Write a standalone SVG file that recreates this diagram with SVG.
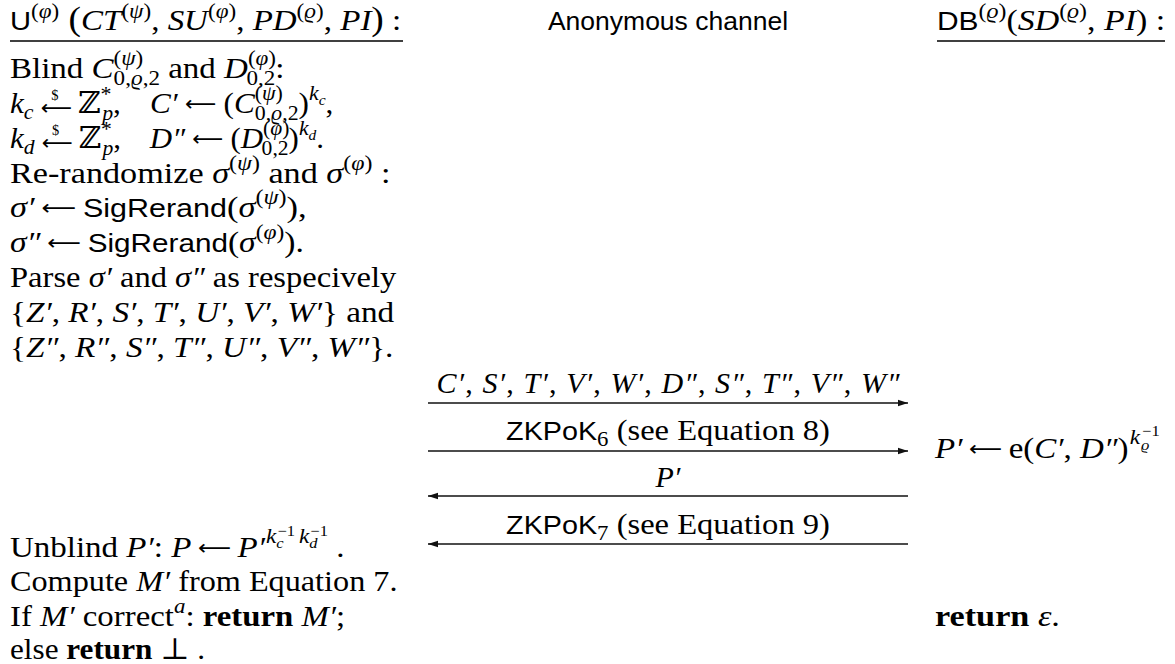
<svg xmlns="http://www.w3.org/2000/svg" width="1175" height="664" viewBox="0 0 1175 664">
<style>
text{font-family:"Liberation Serif","DejaVu Serif",serif;font-size:30px;fill:#000}
.r{font-family:"Liberation Serif","DejaVu Serif",serif}
.i{font-style:italic}
.s{font-family:"Liberation Sans","DejaVu Sans",sans-serif;font-size:26.5px}
.a{font-family:"DejaVu Sans",sans-serif;font-size:21px;font-style:normal}
.b{font-weight:bold}
.sc{font-size:21px}
.ss{font-size:15px}
.ul{stroke:#000;stroke-width:1.3}
.arr{stroke:#111;stroke-width:1.3;fill:none}
</style>
<defs>
<marker id="ah" viewBox="0 0 10 8" refX="10" refY="4" markerWidth="10" markerHeight="8" markerUnits="userSpaceOnUse" orient="auto-start-reverse">
<path d="M0,0.8 L10,4 L0,7.2 z" fill="#111"/>
</marker>
</defs>

<g id="header-user">
<text transform="translate(10 0) scale(1.1 1)" x="0" y="30"><tspan class="s">U</tspan><tspan class="sc r" dy="-12">(<tspan class="i">φ</tspan>)</tspan><tspan class="r" dy="12" font-size="34"> (</tspan><tspan class="i r">CT</tspan><tspan class="sc r" dy="-12">(<tspan class="i">ψ</tspan>)</tspan><tspan class="r" dy="12">, </tspan><tspan class="i r">SU</tspan><tspan class="sc r" dy="-12">(<tspan class="i">φ</tspan>)</tspan><tspan class="r" dy="12">, </tspan><tspan class="i r">PD</tspan><tspan class="sc r" dy="-12">(<tspan class="i">ϱ</tspan>)</tspan><tspan class="r" dy="12">, </tspan><tspan class="i r">PI</tspan><tspan class="r" font-size="34">)</tspan><tspan class="r"> :</tspan></text>
<line class="ul" x1="10" y1="41" x2="403" y2="41"/>
</g>

<g id="header-channel">
<text class="s" x="668" y="30" text-anchor="middle">Anonymous channel</text>
</g>

<g id="header-db">
<text transform="translate(937 0) scale(1.13 1)" x="0" y="30"><tspan class="s">DB</tspan><tspan class="sc r" dy="-12">(<tspan class="i">ϱ</tspan>)</tspan><tspan class="r" dy="12">(</tspan><tspan class="i r">SD</tspan><tspan class="sc r" dy="-12">(<tspan class="i">ϱ</tspan>)</tspan><tspan class="r" dy="12">, </tspan><tspan class="i r">PI</tspan><tspan class="r">) :</tspan></text>
<line class="ul" x1="937" y1="41" x2="1165" y2="41"/>
</g>

<g id="user-steps">
<text transform="translate(10 0) scale(1.1 1)" x="0" y="78">Blind <tspan class="i">C</tspan><tspan class="sc" dy="-13">(<tspan class="i">ψ</tspan>)</tspan><tspan class="sc" dx="-27" dy="20">0,<tspan class="i">ϱ</tspan>,2</tspan><tspan dy="-7"> and </tspan><tspan class="i">D</tspan><tspan class="sc" dy="-13">(<tspan class="i">φ</tspan>)</tspan><tspan class="sc" dx="-27" dy="20">0,2</tspan><tspan dy="-7">:</tspan></text>

<text transform="translate(10 0) scale(1.04 1)" x="0" y="113"><tspan class="i">k</tspan><tspan class="sc i" dy="6">c</tspan><tspan class="a" dx="7" dy="-4">⟵</tspan><tspan font-size="14" dx="-20" dy="-15">$</tspan><tspan dx="11" dy="13"> ℤ</tspan><tspan class="sc" dy="-12">*</tspan><tspan class="sc i" dx="-9" dy="19">p</tspan><tspan dy="-7">,</tspan><tspan class="i" dx="28">C′</tspan><tspan class="a" dx="7" dy="-2">⟵</tspan><tspan dx="7" dy="2">(</tspan><tspan class="i">C</tspan><tspan class="sc" dy="-13">(<tspan class="i">ψ</tspan>)</tspan><tspan class="sc" dx="-27" dy="20">0,<tspan class="i">ϱ</tspan>,2</tspan><tspan dy="-7">)</tspan><tspan class="sc i" dy="-13">k</tspan><tspan class="ss i" dy="5">c</tspan><tspan dy="8">,</tspan></text>

<text transform="translate(10 0) scale(1.03 1)" x="0" y="148"><tspan class="i">k</tspan><tspan class="sc i" dy="6">d</tspan><tspan class="a" dx="7" dy="-4">⟵</tspan><tspan font-size="14" dx="-20" dy="-15">$</tspan><tspan dx="11" dy="13"> ℤ</tspan><tspan class="sc" dy="-12">*</tspan><tspan class="sc i" dx="-9" dy="19">p</tspan><tspan dy="-7">,</tspan><tspan class="i" dx="28">D″</tspan><tspan class="a" dx="7" dy="-2">⟵</tspan><tspan dx="7" dy="2">(</tspan><tspan class="i">D</tspan><tspan class="sc" dy="-13">(<tspan class="i">φ</tspan>)</tspan><tspan class="sc" dx="-27" dy="20">0,2</tspan><tspan dy="-7">)</tspan><tspan class="sc i" dy="-13">k</tspan><tspan class="ss i" dy="5">d</tspan><tspan dy="8">.</tspan></text>

<text transform="translate(10 0) scale(1.14 1)" x="0" y="183">Re-randomize <tspan class="i">σ</tspan><tspan class="sc" dy="-13">(<tspan class="i">ψ</tspan>)</tspan><tspan dy="13"> and </tspan><tspan class="i">σ</tspan><tspan class="sc" dy="-13">(<tspan class="i">φ</tspan>)</tspan><tspan dy="13"> :</tspan></text>

<text transform="translate(10 0) scale(1.15 1)" x="0" y="217"><tspan class="i">σ′</tspan><tspan class="a" dx="6" dy="-2">⟵</tspan><tspan dx="6" dy="2" class="s">SigRerand</tspan><tspan class="r">(</tspan><tspan class="i r">σ</tspan><tspan class="sc r" dy="-13">(<tspan class="i">ψ</tspan>)</tspan><tspan class="r" dy="13">),</tspan></text>

<text transform="translate(10 0) scale(1.12 1)" x="0" y="252"><tspan class="i">σ″</tspan><tspan class="a" dx="6" dy="-2">⟵</tspan><tspan dx="6" dy="2" class="s">SigRerand</tspan><tspan class="r">(</tspan><tspan class="i r">σ</tspan><tspan class="sc r" dy="-13">(<tspan class="i">φ</tspan>)</tspan><tspan class="r" dy="13">).</tspan></text>

<text transform="translate(10 0) scale(1.085 1)" x="0" y="287">Parse <tspan class="i">σ′</tspan> and <tspan class="i">σ″</tspan> as respecively</text>

<text transform="translate(10 0) scale(1.107 1)" x="0" y="322">{<tspan class="i">Z′</tspan>, <tspan class="i">R′</tspan>, <tspan class="i">S′</tspan>, <tspan class="i">T′</tspan>, <tspan class="i">U′</tspan>, <tspan class="i">V′</tspan>, <tspan class="i">W′</tspan>} and</text>

<text transform="translate(10 0) scale(1.11 1)" x="0" y="357">{<tspan class="i">Z″</tspan>, <tspan class="i">R″</tspan>, <tspan class="i">S″</tspan>, <tspan class="i">T″</tspan>, <tspan class="i">U″</tspan>, <tspan class="i">V″</tspan>, <tspan class="i">W″</tspan>}.</text>

<text transform="translate(10 0) scale(1.1 1)" x="0" y="557">Unblind <tspan class="i">P′</tspan>: <tspan class="i">P</tspan><tspan class="a" dx="6" dy="-2">⟵</tspan><tspan class="i" dx="6" dy="2">P′</tspan><tspan class="sc i" dx="1" dy="-14">k</tspan><tspan class="ss" dx="1" dy="-7">−1</tspan><tspan class="ss i" dx="-17" dy="12">c</tspan><tspan class="sc i" dx="14" dy="-5">k</tspan><tspan class="ss" dx="1" dy="-7">−1</tspan><tspan class="ss i" dx="-17" dy="12">d</tspan><tspan dx="17" dy="9">.</tspan></text>

<text transform="translate(10 0) scale(1.075 1)" x="0" y="591">Compute <tspan class="i">M′</tspan> from Equation 7.</text>

<text transform="translate(10 0) scale(1.094 1)" x="0" y="626">If <tspan class="i">M′</tspan> correct<tspan class="sc i" dy="-13">a</tspan><tspan dy="13">: </tspan><tspan class="b">return</tspan> <tspan class="i">M′</tspan>;</text>

<text transform="translate(10 0) scale(1.04 1)" x="0" y="659">else <tspan class="b">return</tspan> ⊥ .</text>
</g>

<g id="db-steps">
<text transform="translate(935 0) scale(1.1 1)" x="0" y="458"><tspan class="i">P′</tspan><tspan class="a" dx="6" dy="-2">⟵</tspan><tspan dx="6" dy="2">e(</tspan><tspan class="i">C′</tspan>, <tspan class="i">D″</tspan>)<tspan class="sc i" dx="1" dy="-14">k</tspan><tspan class="ss" dx="2" dy="-8">−1</tspan><tspan class="ss i" dx="-17" dy="14">ϱ</tspan></text>
<text transform="translate(935 0) scale(1.14 1)" x="0" y="626"><tspan class="b">return</tspan> <tspan class="i">ε</tspan>.</text>
</g>

<g id="connectors">
<line class="arr" x1="428" y1="403" x2="908" y2="403" marker-end="url(#ah)"/>
<line class="arr" x1="428" y1="451" x2="908" y2="451" marker-end="url(#ah)"/>
<line class="arr" x1="428" y1="496" x2="908" y2="496" marker-start="url(#ah)"/>
<line class="arr" x1="428" y1="544" x2="908" y2="544" marker-start="url(#ah)"/>
<text x="668" y="393" text-anchor="middle" textLength="463" lengthAdjust="spacing"><tspan class="i">C′</tspan>, <tspan class="i">S′</tspan>, <tspan class="i">T′</tspan>, <tspan class="i">V′</tspan>, <tspan class="i">W′</tspan>, <tspan class="i">D″</tspan>, <tspan class="i">S″</tspan>, <tspan class="i">T″</tspan>, <tspan class="i">V″</tspan>, <tspan class="i">W″</tspan></text>
<text transform="translate(668 0) scale(1.085 1)" x="0" y="440" text-anchor="middle"><tspan class="s">ZKPoK</tspan><tspan class="sc r" dy="6">6</tspan><tspan class="r" dy="-6"> (see Equation 8)</tspan></text>
<text x="668" y="487" text-anchor="middle" class="i">P′</text>
<text transform="translate(668 0) scale(1.085 1)" x="0" y="534" text-anchor="middle"><tspan class="s">ZKPoK</tspan><tspan class="sc r" dy="6">7</tspan><tspan class="r" dy="-6"> (see Equation 9)</tspan></text>
</g>
</svg>
